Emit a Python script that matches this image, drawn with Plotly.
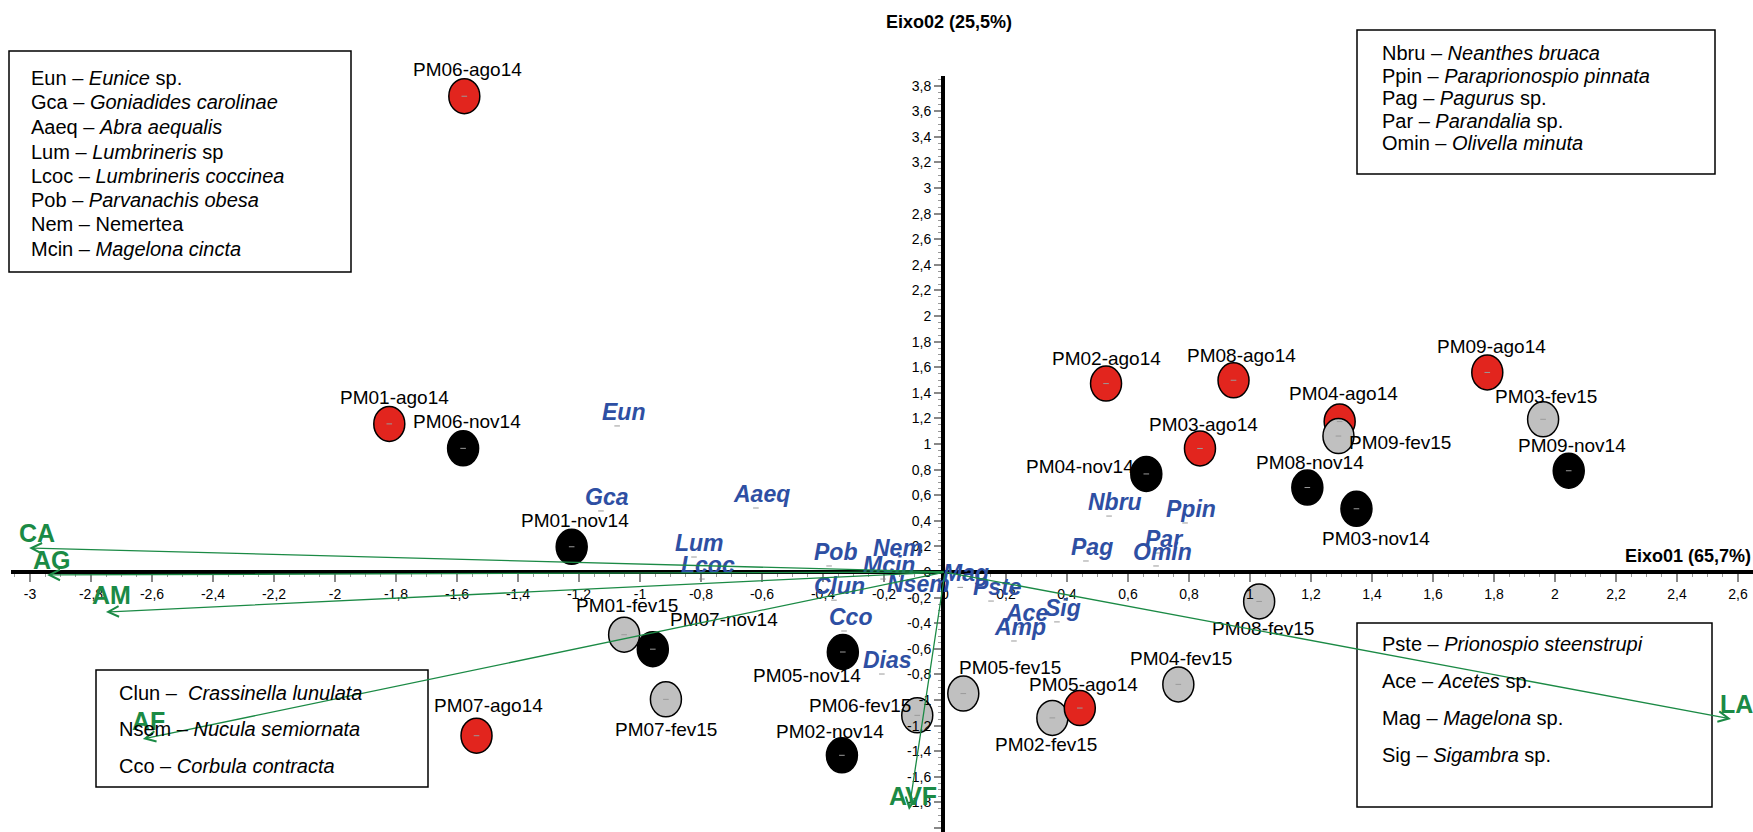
import plotly.graph_objects as go

W, H = 1753, 832

# ---------------- data ----------------
site_names = ["PM01-ago14", "PM01-nov14", "PM01-fev15",
              "PM02-ago14", "PM02-nov14", "PM02-fev15",
              "PM03-ago14", "PM03-nov14", "PM03-fev15",
              "PM04-ago14", "PM04-nov14", "PM04-fev15",
              "PM05-ago14", "PM05-nov14", "PM05-fev15",
              "PM06-ago14", "PM06-nov14", "PM06-fev15",
              "PM07-ago14", "PM07-nov14", "PM07-fev15",
              "PM08-ago14", "PM08-nov14", "PM08-fev15",
              "PM09-ago14", "PM09-nov14", "PM09-fev15"]
site_x = [-1.822, -1.224, -1.052,
          0.528, -0.338, 0.352,
          0.836, 1.349, 1.961,
          1.294, 0.660, 0.765,
          0.442, -0.335, 0.060,
          -1.576, -1.580, -0.091,
          -1.536, -0.958, -0.915,
          0.946, 1.188, 1.030,
          1.778, 2.045, 1.290]
site_y = [1.157, 0.197, -0.490,
          1.472, -1.432, -1.140,
          0.965, 0.494, 1.193,
          1.175, 0.766, -0.878,
          -1.063, -0.625, -0.950,
          3.717, 0.966, -1.120,
          -1.279, -0.603, -0.995,
          1.498, 0.660, -0.230,
          1.559, 0.791, 1.062]
site_period = [n.split("-")[1] for n in site_names]

species_names = ["Eun", "Gca", "Aaeq", "Lum", "Lcoc", "Pob", "Nem", "Mcin",
                 "Mag", "Clun", "Nsem", "Pste", "Cco", "Ace", "Sig", "Amp",
                 "Dias", "Nbru", "Ppin", "Pag", "Par", "Omin"]
species_x = [-1.075, -1.128, -0.620, -0.823, -0.797, -0.380, -0.174, -0.203,
             0.050, -0.364, -0.108, 0.151, -0.331, 0.249, 0.367, 0.226,
             -0.207, 0.538, 0.787, 0.462, 0.698, 0.692]
species_y = [1.141, 0.477, 0.500, 0.117, -0.055, 0.047, 0.078, -0.055,
             -0.120, -0.220, -0.203, -0.227, -0.461, -0.430, -0.390, -0.539,
             -0.797, 0.437, 0.383, 0.086, 0.148, 0.047]

env_names = ["CA", "AG", "AM", "AF", "AVF", "LA"]
env_x = [-3.003, -2.944, -2.751, -2.630, -0.118, 2.577]
env_y = [0.1875, -0.023, -0.3125, -1.305, -1.859, -1.148]

x_tickvals = [-3, -2.8, -2.6, -2.4, -2.2, -2, -1.8, -1.6, -1.4, -1.2, -1, -0.8,
              -0.6, -0.4, -0.2, 0, 0.2, 0.4, 0.6, 0.8, 1, 1.2, 1.4, 1.6, 1.8,
              2, 2.2, 2.4, 2.6]
x_ticktext = ["-3", "-2,8", "-2,6", "-2,4", "-2,2", "-2", "-1,8", "-1,6", "-1,4",
              "-1,2", "-1", "-0,8", "-0,6", "-0,4", "-0,2", "0", "0,2", "0,4",
              "0,6", "0,8", "1", "1,2", "1,4", "1,6", "1,8", "2", "2,2", "2,4", "2,6"]
y_tickvals = [-2, -1.8, -1.6, -1.4, -1.2, -1, -0.8, -0.6, -0.4, -0.2, 0, 0.2,
              0.4, 0.6, 0.8, 1, 1.2, 1.4, 1.6, 1.8, 2, 2.2, 2.4, 2.6, 2.8, 3,
              3.2, 3.4, 3.6, 3.8]
y_ticktext = ["-2", "-1,8", "-1,6", "-1,4", "-1,2", "-1", "-0,8", "-0,6", "-0,4",
              "-0,2", "0", "0,2", "0,4", "0,6", "0,8", "1", "1,2", "1,4", "1,6",
              "1,8", "2", "2,2", "2,4", "2,6", "2,8", "3", "3,2", "3,4", "3,6", "3,8"]

legend_tl = ["Eun – <i>Eunice</i> sp.", "Gca – <i>Goniadides carolinae</i>",
             "Aaeq – <i>Abra aequalis</i>", "Lum – <i>Lumbrineris</i> sp",
             "Lcoc – <i>Lumbrineris coccinea</i>", "Pob – <i>Parvanachis obesa</i>",
             "Nem – Nemertea", "Mcin – <i>Magelona cincta</i>"]
legend_tr = ["Nbru – <i>Neanthes bruaca</i>", "Ppin – <i>Paraprionospio pinnata</i>",
             "Pag – <i>Pagurus</i> sp.", "Par – <i>Parandalia</i> sp.",
             "Omin – <i>Olivella minuta</i>"]
legend_bl = ["Clun –  <i>Crassinella lunulata</i>", "Nsem – <i>Nucula semiornata</i>",
             "Cco – <i>Corbula contracta</i>"]
legend_br = ["Pste – <i>Prionospio steenstrupi</i>", "Ace – <i>Acetes</i> sp.",
             "Mag – <i>Magelona</i> sp.", "Sig – <i>Sigambra</i> sp."]

# ---------------- styles / layout helpers ----------------
FONT = "Liberation Sans, Arial, sans-serif"
period_color = {"ago14": "#E2251E", "nov14": "#000000", "fev15": "#C0C0C0"}
GREEN = "#1B8A45"
BLUE = "#2E4FA3"

# label offsets (px, screen coords: +dx right, +dy down)
label_off = {
    "PM01-ago14": (5, -26), "PM01-nov14": (3, -26), "PM01-fev15": (3, -29),
    "PM02-ago14": (0, -25), "PM02-nov14": (-12, -24), "PM02-fev15": (-6, 27),
    "PM03-ago14": (4, -24), "PM03-nov14": (20, 30), "PM03-fev15": (3, -23),
    "PM04-ago14": (4, -28), "PM04-nov14": (-66, -7), "PM04-fev15": (3, -26),
    "PM05-ago14": (4, -24), "PM05-nov14": (-36, 23), "PM05-fev15": (47, -26),
    "PM06-ago14": (3, -27), "PM06-nov14": (4, -27), "PM06-fev15": (-57, -10),
    "PM07-ago14": (12, -30), "PM07-nov14": (71, -30), "PM07-fev15": (0, 30),
    "PM08-ago14": (8, -25), "PM08-nov14": (3, -25), "PM08-fev15": (4, 27),
    "PM09-ago14": (4, -26), "PM09-nov14": (3, -25), "PM09-fev15": (62, 6),
}
# (dx, dy, xanchor)
env_label_off = {"CA": (8, -15, "center"), "AG": (5, -15, "center"),
                 "AM": (6, -17, "center"), "AF": (6, -18, "center"),
                 "AVF": (4, -14, "center"), "LA": (-13, -15, "left")}

# pixel mapping: x -> 945 + 305*x ; y -> 572 - 128*y
X0PX, XS, Y0PX, YS = 945, 305, 572, 128
xdom0 = 11 / W
xr = [(11 - X0PX) / XS, (W - X0PX) / XS]
ytop_px = 76
ydom1 = 1 - ytop_px / H
yr = [(Y0PX - H) / YS, (Y0PX - ytop_px) / YS]

fig = go.Figure()

shapes = []
# ellipses for sites
for n, x, y, p in zip(site_names, site_x, site_y, site_period):
    shapes.append(dict(type="circle", xref="x", yref="y",
                       xsizemode="pixel", ysizemode="pixel",
                       xanchor=x, yanchor=y, x0=-15.5, x1=15.5, y0=-17.5, y1=17.5,
                       fillcolor=period_color[p], line=dict(color="black", width=1.5),
                       layer="below"))

DASH = dict(symbol="line-ew-open", size=4, color="#9a9a9a",
            line=dict(color="#9a9a9a", width=1))
# center dashes of sites
fig.add_trace(go.Scatter(x=site_x, y=site_y, mode="markers", marker=DASH,
                         hoverinfo="text", text=site_names, showlegend=False))
# species dashes
fig.add_trace(go.Scatter(x=species_x, y=species_y, mode="markers", marker=DASH,
                         hoverinfo="text", text=species_names, showlegend=False))
# empty trace that registers the helper x-axis (used only to place the y axis at x = 0)
fig.add_trace(go.Scatter(x=[], y=[], xaxis="x2", yaxis="y", mode="markers",
                         showlegend=False, hoverinfo="skip"))

annotations = []
# site labels
for n, x, y in zip(site_names, site_x, site_y):
    dx, dy = label_off[n]
    annotations.append(dict(x=x, y=y, xref="x", yref="y", text=n, showarrow=False,
                            xshift=dx, yshift=-dy, xanchor="center", yanchor="middle",
                            font=dict(family=FONT, size=19, color="black")))
# species labels
for n, x, y in zip(species_names, species_x, species_y):
    annotations.append(dict(x=x, y=y, xref="x", yref="y",
                            text="<b><i>%s</i></b>" % n, showarrow=False,
                            xshift=6, yshift=14, xanchor="center", yanchor="middle",
                            font=dict(family=FONT, size=23, color=BLUE)))
# environmental vectors
for n, x, y in zip(env_names, env_x, env_y):
    annotations.append(dict(x=x, y=y, xref="x", yref="y", axref="x", ayref="y",
                            ax=0, ay=0, text="", showarrow=True, arrowhead=5,
                            arrowsize=1.6, arrowwidth=1.3, arrowcolor=GREEN,
                            standoff=0, startstandoff=0))
    dx, dy, xa = env_label_off[n]
    annotations.append(dict(x=x, y=y, xref="x", yref="y", text="<b>%s</b>" % n,
                            showarrow=False, xshift=dx, yshift=-dy,
                            xanchor=xa, yanchor="middle",
                            font=dict(family=FONT, size=25, color=GREEN)))

# axis titles
annotations.append(dict(x=1753 / W, y=1 - 556 / H, xref="paper", yref="paper",
                        text="<b>Eixo01 (65,7%)</b>", showarrow=False,
                        xanchor="right", yanchor="middle",
                        font=dict(family=FONT, size=18, color="black")))
annotations.append(dict(x=949 / W, y=1 - 22 / H, xref="paper", yref="paper",
                        text="<b>Eixo02 (25,5%)</b>", showarrow=False,
                        xanchor="center", yanchor="middle",
                        font=dict(family=FONT, size=18, color="black")))


def legend_box(x0, y0, x1, y1, lines, tx, ys, size=20):
    shapes.append(dict(type="rect", xref="paper", yref="paper",
                       x0=x0 / W, x1=x1 / W, y0=1 - y1 / H, y1=1 - y0 / H,
                       line=dict(color="black", width=1.5), fillcolor="rgba(0,0,0,0)",
                       layer="above"))
    for t, yy in zip(lines, ys):
        annotations.append(dict(x=tx / W, y=1 - yy / H, xref="paper", yref="paper",
                                text=t, showarrow=False, xanchor="left",
                                yanchor="middle",
                                font=dict(family=FONT, size=size, color="black")))


legend_box(9, 51, 351, 272, legend_tl, 29, [78, 102, 127, 152, 176, 200, 224, 249])
legend_box(1357, 30, 1715, 174, legend_tr, 1380, [53, 76, 98, 121, 143])
legend_box(96, 670, 428, 787, legend_bl, 117, [693, 729, 766])
legend_box(1357, 623, 1712, 807, legend_br, 1380, [644, 681, 718, 755])

fig.update_layout(
    width=W, height=H, autosize=False,
    margin=dict(l=0, r=0, t=0, b=0, pad=0),
    paper_bgcolor="white", plot_bgcolor="rgba(0,0,0,0)",
    showlegend=False,
    shapes=shapes, annotations=annotations,
    xaxis=dict(domain=[xdom0, 1], range=xr, anchor="free", position=(H - Y0PX) / H,
               showgrid=False, zeroline=False, showline=True, linecolor="black",
               linewidth=4, ticks="outside", ticklen=8, tickwidth=1.5,
               tickcolor="#888888", tickmode="array", tickvals=x_tickvals,
               ticktext=x_ticktext, tickfont=dict(family=FONT, size=14, color="black"),
               minor=dict(tickmode="linear", tick0=0, dtick=0.05, ticks="outside",
                          ticklen=3, tickcolor="#999999", tickwidth=1),
               automargin=False, fixedrange=True),
    # invisible helper axis: its left domain edge marks x = 0 so the y axis sits there
    xaxis2=dict(domain=[X0PX / W, 1], range=[0, 1], anchor="y", visible=False,
                showline=False, showgrid=False, zeroline=False, fixedrange=True),
    yaxis=dict(domain=[0, ydom1], range=yr, anchor="x2", side="left",
               showgrid=False, zeroline=False, showline=True, linecolor="black",
               linewidth=4, ticks="outside", ticklen=7, tickwidth=1.5,
               tickcolor="#888888", tickmode="array", tickvals=y_tickvals,
               ticktext=y_ticktext, tickfont=dict(family=FONT, size=14, color="black"),
               minor=dict(tickmode="linear", tick0=0, dtick=0.05, ticks="outside",
                          ticklen=3, tickcolor="#999999", tickwidth=1),
               automargin=False, fixedrange=True),
)

fig.write_html("out.html", config={"displayModeBar": False},
               post_script="document.body.style.margin='0';"
                           "document.body.style.overflow='hidden';")
